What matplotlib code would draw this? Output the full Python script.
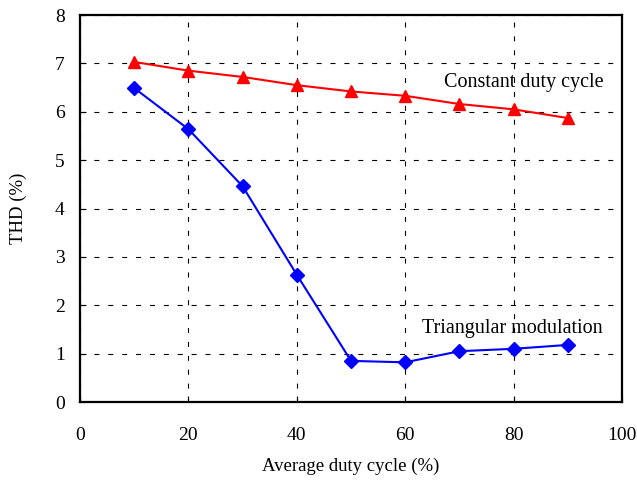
import numpy as np
import matplotlib.pyplot as plt

plt.rcParams['font.family'] = ['Liberation Serif', 'DejaVu Serif']

duty = [10, 20, 30, 40, 50, 60, 70, 80, 90]
thd_const = [7.03, 6.85, 6.72, 6.55, 6.42, 6.33, 6.16, 6.05, 5.87]
thd_tri = [6.49, 5.64, 4.46, 2.63, 0.85, 0.82, 1.05, 1.10, 1.18]

fig = plt.figure(figsize=(6.37, 4.83), dpi=100)
ax = fig.add_axes([0.1256, 0.1677, 0.8509, 0.8012])

ax.plot(duty, thd_const, '-r^', lw=1.5, markersize=9)
ax.plot(duty, thd_tri, '-bD', lw=1.5, markersize=7)

ax.text(81.8, 6.6, 'Constant duty cycle', fontsize=14.5, ha='center', va='center')
ax.text(79.8, 1.52, 'Triangular modulation', fontsize=14.5, ha='center', va='center')

ax.set_xlim(0, 100)
ax.set_ylim(0, 8)
ax.set_xticks(np.arange(0, 101, 20))
ax.set_yticks(np.arange(0, 9, 1))
ax.grid(True, color='black', linestyle=(0, (4.5, 8)), linewidth=0.8)
ax.tick_params(direction='in', length=4, labelsize=14)
ax.tick_params(axis='x', pad=18)
ax.tick_params(axis='y', pad=11)
for s in ax.spines.values():
    s.set_linewidth(1.6)

ax.set_xlabel('Average duty cycle (%)', fontsize=13.5, labelpad=10)
ax.set_ylabel('THD (%)', fontsize=13.5, labelpad=20)

fig.savefig('out.png', dpi=100)
